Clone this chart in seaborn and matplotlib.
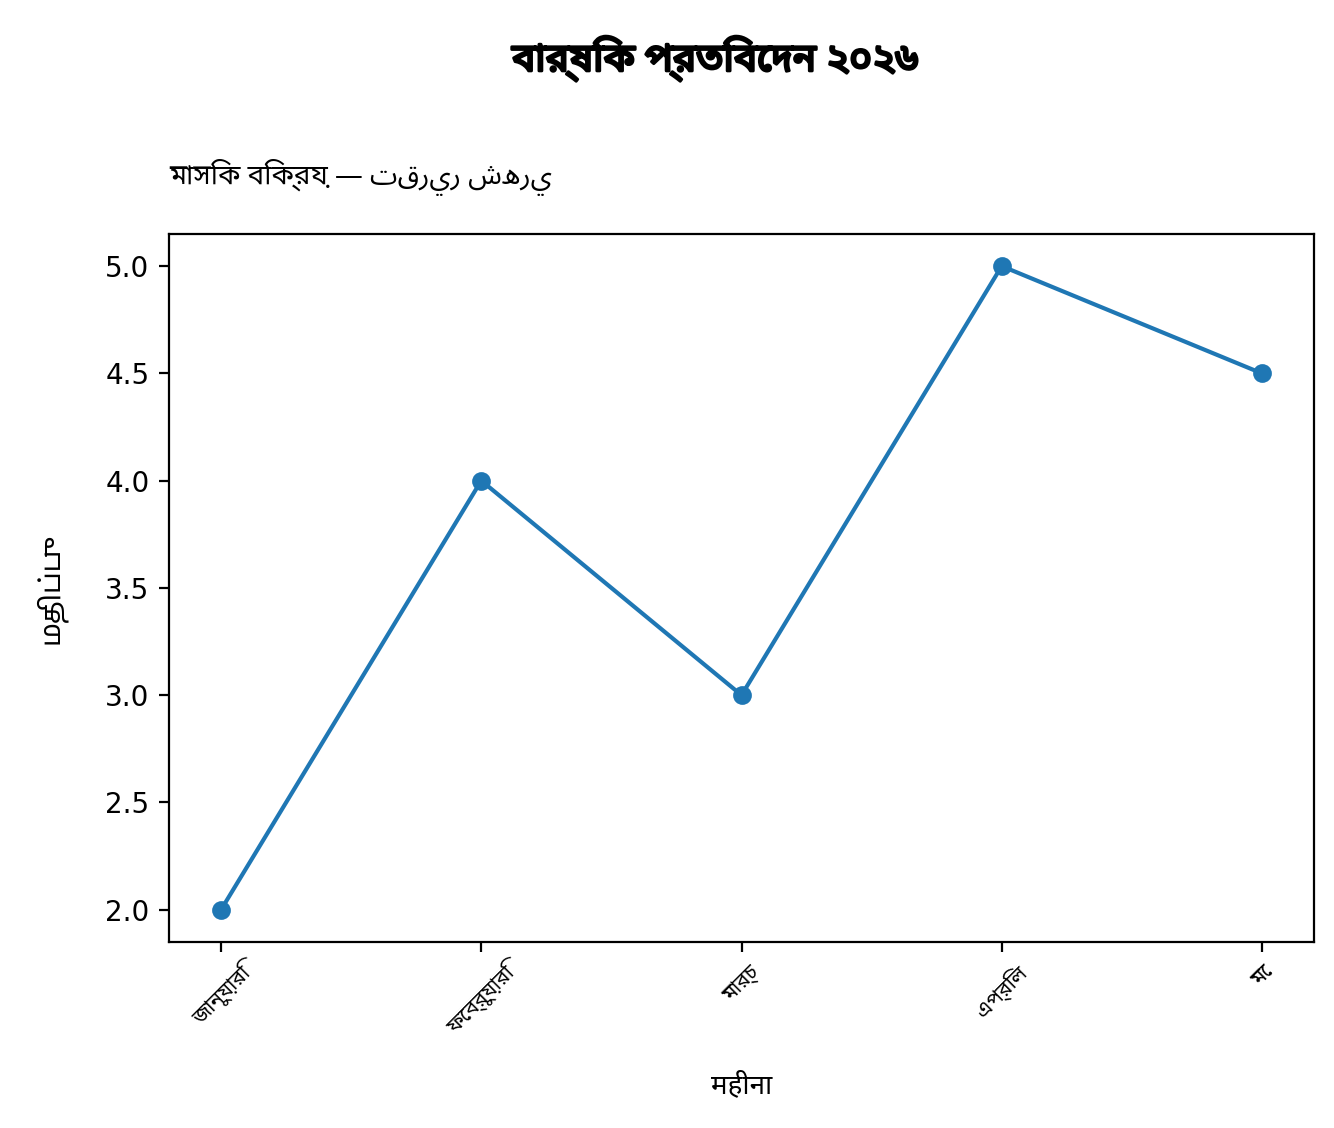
import matplotlib
matplotlib.use("Agg")
import matplotlib.pyplot as plt
import matplotlib.patheffects as pe
import seaborn as sns
import pandas as pd

months = ["জানুয়ারি", "ফেব্রুয়ারি", "মার্চ", "এপ্রিল", "মে"]
values = [2.0, 4.0, 3.0, 5.0, 4.5]

title = "বার্ষিক প্রতিবেদন ২০২৬"
subtitle = "মাসিক বিক্রয় — تقرير شهري"
xlabel = "महीना"
ylabel = "மதிப்பு"

plt.rcParams.update(plt.rcParamsDefault)
fams = ["DejaVu Sans", "Noto Sans Bengali", "Noto Sans Devanagari", "Noto Sans Tamil",
        "Noto Sans Arabic"]
plt.rcParams["font.family"] = fams

df = pd.DataFrame({"month": months, "value": values})

fig = plt.figure(figsize=(6.67, 5.64), dpi=200)
ax = fig.add_axes([0.1267, 0.165, 0.8583, 0.6276])
sns.lineplot(data=df, x="month", y="value", marker="o", color="#1f77b4",
             markeredgecolor="#1f77b4", markersize=6, linewidth=1.5, ax=ax, sort=False)
ax.margins(x=0.05, y=0.05)
ax.tick_params(axis="y", labelsize=10)
for lab in ax.get_xticklabels():
    lab.set_fontfamily(["Noto Sans Bengali", "DejaVu Sans"])
    lab.set_fontsize(7.5)
    lab.set_rotation(45)
ax.set_xlabel(xlabel, fontsize=10, labelpad=12,
              fontfamily=["Noto Sans Devanagari", "DejaVu Sans"])
ax.set_ylabel(ylabel, fontsize=10, labelpad=14,
              fontfamily=["Noto Sans Tamil", "DejaVu Sans"])
ax.set_title(subtitle, loc="left", fontsize=10, pad=18,
             fontfamily=["Noto Sans Bengali", "Noto Sans Arabic", "DejaVu Sans"])
fig.suptitle(title, fontsize=14, fontweight="bold", x=0.536, y=0.968,
             fontfamily=["Noto Sans Bengali", "DejaVu Sans"],
             path_effects=[pe.withStroke(linewidth=1.0, foreground="black")])
fig.savefig("out.png", dpi=200)
